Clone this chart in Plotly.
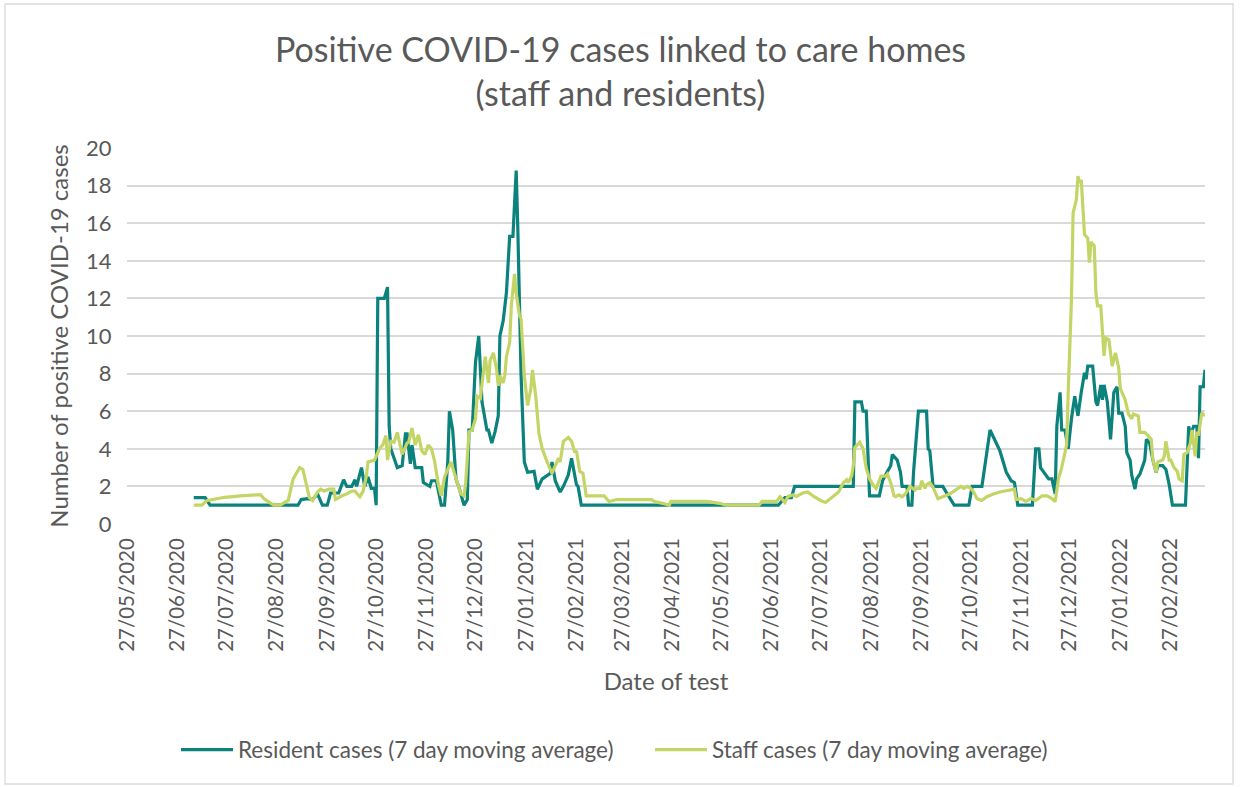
import datetime as dt
import plotly.graph_objects as go

START_DATE = dt.date(2020, 5, 27)
AXIS_END_DAY = 662

# Day offsets from START_DATE and 7-day moving average values
resident_day = [41, 48, 51, 105, 107, 111, 114, 117, 120, 123, 125, 130, 133, 135, 138, 140, 141, 144, 146, 148,
                150, 152, 153, 154, 158, 160, 161, 162, 166, 169, 171, 172, 174, 175, 177, 181, 182, 186, 187, 190,
                193, 195, 197, 198, 200, 202, 204, 207, 209, 210, 212, 214, 216, 218, 221, 222, 224, 226, 228, 229,
                231, 233, 235, 237, 239, 240, 242, 244, 246, 250, 252, 255, 260, 261, 263, 266, 268, 271, 273, 275,
                276, 277, 279, 400, 404, 408, 410, 446, 447, 451, 452, 454, 456, 462, 464, 467, 469, 470, 473, 475,
                476, 479, 480, 482, 483, 486, 491, 492, 493, 495, 501, 503, 508, 517, 519, 525, 530, 536, 540, 543,
                545, 547, 556, 558, 560, 561, 564, 566, 568, 570, 571, 573, 574, 576, 578, 580, 582, 584, 586, 588,
                589, 590, 593, 595, 596, 598, 599, 600, 602, 604, 606, 608, 609, 611, 613, 614, 616, 617, 619, 620,
                622, 625, 626, 628, 630, 632, 633, 636, 638, 640, 642, 650, 652, 653, 655, 657, 658, 659, 661, 662]
resident_val = [1.4, 1.4, 1.0, 1.0, 1.3, 1.35, 1.3, 1.6, 1.0, 1.0, 1.65, 1.65, 2.35, 2.0, 2.0, 2.35, 2.0, 3.0, 2.0, 2.5,
                1.9, 1.9, 1.0, 12.0, 12.0, 12.6, 5.2, 4.0, 3.0, 3.1, 4.8, 4.8, 3.2, 4.2, 3.0, 3.0, 2.2, 2.0, 2.3, 2.3,
                1.0, 1.0, 3.3, 6.0, 5.0, 2.4, 1.9, 1.0, 1.3, 5.0, 5.0, 8.6, 10.0, 6.5, 5.0, 5.0, 4.3, 4.9, 5.75, 10.0,
                10.8, 12.3, 15.3, 15.3, 18.8, 15.7, 7.9, 3.3, 2.75, 2.8, 1.85, 2.4, 2.7, 3.3, 2.3, 1.7, 2.0, 2.6, 3.5, 2.4,
                2.1, 2.0, 1.0, 1.0, 1.4, 1.4, 2.0, 2.0, 6.5, 6.5, 6.0, 6.0, 1.5, 1.5, 2.3, 2.8, 3.1, 3.7, 3.4, 2.75,
                2.0, 2.0, 1.0, 1.0, 2.75, 6.0, 6.0, 4.0, 3.9, 2.0, 2.0, 1.7, 1.0, 1.0, 2.0, 2.0, 5.0, 3.9, 2.75, 2.3,
                2.2, 1.0, 1.0, 4.0, 4.0, 3.0, 2.6, 2.4, 2.4, 1.6, 5.2, 7.0, 5.0, 5.0, 4.0, 5.6, 6.8, 5.75, 7.0, 8.05,
                7.7, 8.4, 8.4, 6.5, 6.3, 7.4, 6.6, 7.4, 6.5, 4.5, 7.0, 7.3, 5.9, 5.9, 5.2, 3.8, 3.4, 2.6, 1.86, 2.4,
                2.65, 3.4, 4.5, 4.3, 3.4, 2.75, 3.1, 3.1, 2.9, 2.1, 1.0, 1.0, 5.2, 4.7, 5.2, 5.2, 3.5, 7.3, 7.3, 8.2]

staff_day = [41, 46, 49, 60, 70, 82, 84, 87, 90, 94, 99, 102, 106, 108, 110, 112, 114, 117, 119, 121,
             124, 127, 128, 132, 135, 138, 140, 143, 145, 147, 148, 152, 155, 157, 159, 160, 162, 164, 166, 169,
             172, 173, 175, 177, 179, 181, 183, 185, 187, 189, 191, 193, 195, 197, 199, 201, 203, 205, 207, 208,
             210, 212, 214, 215, 217, 218, 220, 222, 223, 225, 227, 228, 229, 231, 232, 233, 235, 236, 238, 239,
             241, 242, 244, 246, 248, 249, 251, 253, 255, 258, 261, 263, 265, 266, 268, 271, 273, 275, 276, 278,
             280, 282, 293, 296, 301, 322, 324, 329, 333, 334, 356, 364, 368, 388, 390, 399, 401, 404, 406, 409,
             411, 415, 418, 422, 426, 429, 433, 437, 440, 442, 443, 445, 446, 447, 450, 452, 454, 456, 458, 460,
             461, 463, 466, 467, 469, 471, 472, 474, 476, 478, 481, 484, 485, 487, 488, 490, 491, 493, 495, 498,
             501, 504, 507, 510, 512, 514, 516, 518, 520, 522, 525, 528, 532, 536, 541, 545, 546, 549, 552, 555,
             558, 562, 565, 568, 570, 572, 574, 577, 578, 580, 581, 583, 584, 585, 586, 587, 588, 590, 591, 592,
             594, 595, 596, 598, 600, 601, 603, 605, 607, 609, 610, 611, 613, 615, 617, 618, 621, 622, 625, 627,
             629, 630, 632, 633, 636, 637, 638, 640, 641, 643, 645, 646, 648, 649, 651, 653, 654, 656, 657, 658,
             660, 662]
staff_val = [1.0, 1.0, 1.24, 1.42, 1.5, 1.56, 1.35, 1.15, 1.0, 1.0, 1.25, 2.4, 3.0, 2.9, 2.2, 1.4, 1.25, 1.7, 1.85, 1.75,
             1.85, 1.85, 1.3, 1.5, 1.6, 1.75, 1.75, 1.45, 1.75, 2.55, 3.3, 3.4, 4.0, 4.2, 4.7, 3.4, 4.4, 4.35, 4.87, 3.7,
             4.3, 4.35, 5.1, 4.2, 4.75, 3.9, 3.7, 4.2, 4.0, 3.3, 2.2, 1.5, 2.5, 2.9, 3.3, 2.7, 2.2, 1.6, 1.5, 2.2,
             4.9, 5.0, 5.6, 6.8, 6.7, 7.5, 8.9, 7.5, 8.7, 9.1, 8.2, 7.35, 7.9, 7.5, 7.9, 8.9, 9.65, 11.6, 13.3, 12.3,
             11.1, 10.9, 7.9, 6.3, 7.2, 8.2, 6.8, 4.8, 4.0, 3.3, 2.7, 3.1, 3.5, 3.3, 4.4, 4.6, 4.4, 3.8, 3.9, 2.8,
             2.7, 1.5, 1.5, 1.2, 1.3, 1.3, 1.2, 1.1, 1.0, 1.2, 1.2, 1.1, 1.0, 1.0, 1.2, 1.2, 1.45, 1.15, 1.47, 1.55,
             1.47, 1.65, 1.7, 1.45, 1.25, 1.15, 1.45, 1.7, 2.2, 2.35, 2.2, 2.55, 3.1, 4.07, 4.35, 4.0, 2.95, 2.4, 2.1, 1.9,
             2.1, 2.55, 2.55, 2.65, 2.2, 1.5, 1.45, 1.55, 1.45, 1.6, 2.0, 1.8, 1.9, 1.9, 2.3, 1.9, 2.1, 2.2, 1.95, 1.35,
             1.45, 1.55, 1.7, 1.9, 2.0, 1.9, 2.0, 1.9, 1.7, 1.35, 1.25, 1.45, 1.6, 1.7, 1.8, 1.85, 1.3, 1.35, 1.2, 1.35,
             1.25, 1.5, 1.5, 1.35, 1.2, 2.4, 3.0, 4.2, 7.0, 11.95, 16.55, 17.25, 18.5, 18.15, 18.3, 16.9, 15.4, 15.2, 13.9, 15.0,
             14.8, 12.3, 11.6, 11.6, 8.94, 9.9, 9.8, 8.4, 9.1, 8.3, 7.2, 7.0, 6.6, 5.85, 5.6, 5.85, 5.75, 4.87, 4.87, 4.7,
             4.5, 3.4, 2.75, 3.3, 3.4, 3.6, 4.4, 3.4, 3.4, 3.0, 2.8, 2.4, 2.3, 3.7, 3.8, 4.3, 5.0, 3.6, 4.9, 4.7,
             5.9, 5.75]

tick_labels = ["27/05/2020", "27/06/2020", "27/07/2020", "27/08/2020", "27/09/2020", "27/10/2020",
               "27/11/2020", "27/12/2020", "27/01/2021", "27/02/2021", "27/03/2021", "27/04/2021",
               "27/05/2021", "27/06/2021", "27/07/2021", "27/08/2021", "27/09/2021", "27/10/2021",
               "27/11/2021", "27/12/2021", "27/01/2022", "27/02/2022"]
y_ticks = [0, 2, 4, 6, 8, 10, 12, 14, 16, 18, 20]


def to_dates(days):
    return [START_DATE + dt.timedelta(days=d) for d in days]


tick_dates = [dt.datetime.strptime(t, "%d/%m/%Y").date() for t in tick_labels]

FONT = "Lato"
TEXT = "#595959"
GRID = "#D9D9D9"

fig = go.Figure()
fig.add_trace(go.Scatter(x=to_dates(resident_day), y=resident_val, mode="lines",
                         name="Resident cases (7 day moving average)",
                         line=dict(color="#0B827C", width=3.2)))
fig.add_trace(go.Scatter(x=to_dates(staff_day), y=staff_val, mode="lines",
                         name="Staff cases (7 day moving average)",
                         line=dict(color="#C4D565", width=3.2)))

W, H = 1241, 787
L, R, T, B = 127, 36, 148, 263
pw, ph = W - L - R, H - T - B


def px_x(x):
    return (x - L) / pw


def px_y(y):
    return (H - B - y) / ph


fig.add_shape(type="rect", xref="paper", yref="paper",
              x0=px_x(5), x1=px_x(1233), y0=px_y(784), y1=px_y(4),
              line=dict(color=GRID, width=1.3), fillcolor="rgba(0,0,0,0)", layer="below")

fig.update_layout(
    width=W, height=H,
    margin=dict(l=L, r=R, t=T, b=B, autoexpand=False),
    paper_bgcolor="white", plot_bgcolor="white",
    font=dict(family=FONT, color=TEXT),
    title=dict(text="Positive COVID-19 cases linked to care homes<br>(staff and residents)",
               x=0.5, xanchor="center", xref="container",
               y=1 - 62 / H, yanchor="middle", yref="container",
               font=dict(size=34, color=TEXT, family=FONT)),
    showlegend=True,
    legend=dict(orientation="h", x=px_x(176), xanchor="left", y=px_y(750), yanchor="middle",
                font=dict(size=22.5, color=TEXT, family=FONT), itemwidth=52,
                bgcolor="rgba(0,0,0,0)", tracegroupgap=0, entrywidth=407, entrywidthmode="pixels"),
)

fig.update_xaxes(
    type="date",
    range=[START_DATE, START_DATE + dt.timedelta(days=AXIS_END_DAY)],
    tickvals=tick_dates, ticktext=tick_labels, tickangle=-90,
    tickfont=dict(size=20.5, color=TEXT, family=FONT),
    showgrid=False, zeroline=False, showline=False,
    ticks="outside", ticklen=5, tickcolor="rgba(0,0,0,0)",
    title=dict(text="Date of test", font=dict(size=24, color=TEXT, family=FONT), standoff=22),
    automargin=False,
)
fig.update_yaxes(
    range=[0, 20], tickvals=y_ticks,
    tickfont=dict(size=22, color=TEXT, family=FONT),
    showgrid=True, gridcolor=GRID, gridwidth=1.5,
    zeroline=False, showline=False,
    ticks="outside", ticklen=10, tickcolor="rgba(0,0,0,0)",
    title=dict(text="Number of positive COVID-19 cases", font=dict(size=24, color=TEXT, family=FONT), standoff=10),
    automargin=False,
)

fig.write_html("out.html", config={"displayModeBar": False},
               post_script="document.body.style.margin='0';")
